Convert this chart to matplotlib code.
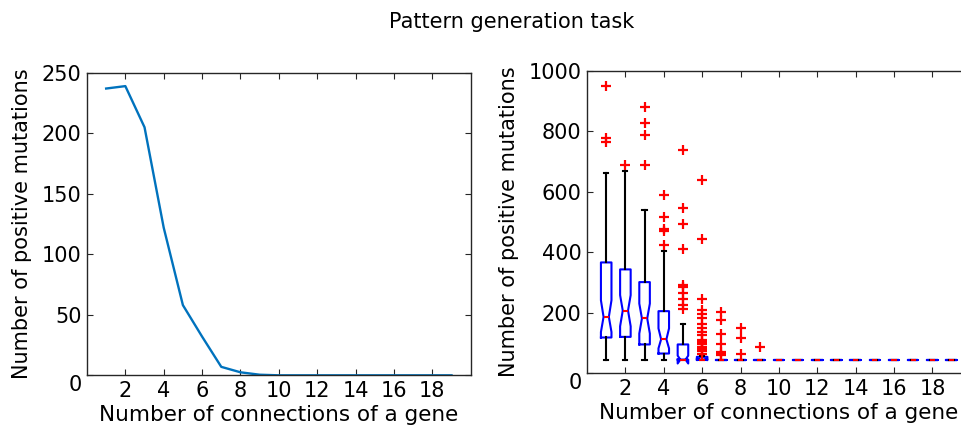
import matplotlib
matplotlib.use("Agg")
import matplotlib.pyplot as plt
from matplotlib.transforms import ScaledTranslation

# ---- data: left panel (line) ----
connections = list(range(1, 20))
positive_mutations = [237, 239, 205, 122, 58, 32, 7, 2.5, 0.5, 0, 0, 0, 0, 0, 0, 0, 0, 0, 0]

# ---- data: right panel (box plot statistics per number of connections) ----
box_positions = list(range(1, 20))
box_median = [186, 207, 181, 112, 45, 45] + [45] * 13
box_q1 = [118, 120, 95, 65, 45, 45] + [45] * 13
box_q3 = [366, 343, 301, 205, 95, 54] + [45] * 13
box_whislo = [45, 45, 45, 45, 45, 45] + [45] * 13
box_whishi = [663, 667, 539, 404, 162, 58] + [45] * 13
box_cilo = [136, 155, 131, 82, 32, 43] + [45] * 13
box_cihi = [241, 258, 230, 148, 58, 47] + [45] * 13
box_fliers = [
    [948, 778, 765],
    [687],
    [879, 826, 788, 687],
    [590, 516, 475, 470, 423],
    [738, 546, 494, 410, 292, 284, 264, 245, 227, 212],
    [637, 445, 244, 210, 197, 181, 164, 148, 137, 126, 111, 103, 95, 87, 79, 73, 65],
    [203, 175, 128, 98, 70, 64, 59],
    [148, 115, 65],
    [87],
] + [[] for _ in range(10)]

xticks = [2, 4, 6, 8, 10, 12, 14, 16, 18]
left_yticks = [0, 50, 100, 150, 200, 250]
right_yticks = [0, 200, 400, 600, 800, 1000]

FS = 15
plt.rcParams['font.family'] = ['DejaVu Sans']

fig = plt.figure(figsize=(9.62, 4.25), dpi=100)
fig.patch.set_facecolor('white')

axL = fig.add_axes([0.0904, 0.1169, 0.3989, 0.7118])
axR = fig.add_axes([0.6102, 0.1219, 0.3989, 0.7120])

axL.plot(connections, positive_mutations, color='#0072BD', lw=1.7)
axL.set_xlim(0, 20)
axL.set_ylim(0, 250)
axL.set_yticks(left_yticks)

stats = []
for i in range(len(box_positions)):
    stats.append(dict(med=box_median[i], q1=box_q1[i], q3=box_q3[i],
                      whislo=box_whislo[i], whishi=box_whishi[i],
                      cilo=box_cilo[i], cihi=box_cihi[i],
                      fliers=box_fliers[i], label=''))

axR.bxp(stats, positions=box_positions, widths=0.55, capwidths=0.22,
        shownotches=True, showfliers=True, manage_ticks=False,
        boxprops=dict(color='blue', lw=1.5),
        medianprops=dict(color='red', lw=1.5),
        whiskerprops=dict(color='black', lw=1.5, linestyle='-'),
        capprops=dict(color='black', lw=1.5),
        flierprops=dict(marker='+', markeredgecolor='red', markersize=7,
                        markeredgewidth=1.6, linestyle='none'))
axR.set_xlim(0, 20)
axR.set_ylim(0, 1000)
axR.set_yticks(right_yticks)

for ax in (axL, axR):
    ax.set_xticks(xticks)
    ax.set_xticklabels([str(t) for t in xticks])
    ax.tick_params(direction='in', top=True, right=True, length=4,
                   width=0.8, labelsize=FS, color='#262626', pad=4)
    for s in ax.spines.values():
        s.set_color('#262626')
        s.set_linewidth(1.0)
    ax.set_xlabel('Number of connections of a gene', fontsize=15.5, labelpad=3)
    ax.set_ylabel('Number of positive mutations', fontsize=15, labelpad=7)
    # the "0" y tick label sits slightly below the axis line
    lab = ax.get_yticklabels()[0]
    lab.set_transform(lab.get_transform() + ScaledTranslation(0, -8 / 100, fig.dpi_scale_trans))

fig.text(0.532, 0.948, 'Pattern generation task', ha='center', va='center', fontsize=15)

fig.savefig('out.png', dpi=100, facecolor='white')
